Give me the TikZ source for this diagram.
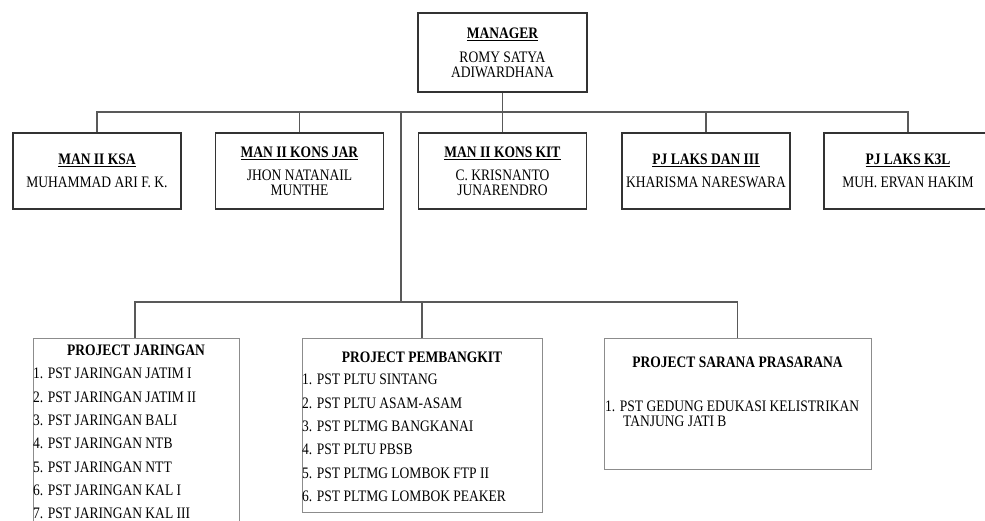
\documentclass[tikz,border=0pt]{standalone}
\usepackage{fontspec}
\setmainfont{Liberation Serif}[FakeStretch=0.845]

\begin{document}
\begin{tikzpicture}[x=1pt, y=-1pt,
    kotak/.style={draw=black!80, line width=1.2pt, minimum width=168pt, minimum height=76pt,
                  inner sep=2pt, align=center, font={\fontsize{16}{15}\selectfont}},
    proyek/.style={draw=black!45, line width=0.9pt},
    judul/.style={anchor=base, inner sep=0pt, font={\fontsize{16}{15}\selectfont\bfseries}},
    daftar/.style={anchor=north west, inner sep=0pt, align=left, font={\fontsize{16}{23.3}\selectfont}},
    garis/.style={draw=black!65, line width=1.1pt}]
    \clip (0,0) rectangle (985,520);

    % Manager et chefs de section
    \node[kotak, minimum width=169pt, minimum height=79pt] (manager) at (502.5,52.5)
        {\underline{\textbf{MANAGER}}\\[9pt]ROMY SATYA\\ADIWARDHANA};
    \node[kotak] (ksa) at (97,171) {\underline{\textbf{MAN II KSA}}\\[8pt]MUHAMMAD ARI F. K.};
    \node[kotak] (konsjar) at (299.5,171) {\underline{\textbf{MAN II KONS JAR}}\\[8pt]JHON NATANAIL\\MUNTHE};
    \node[kotak] (konskit) at (502.5,171) {\underline{\textbf{MAN II KONS KIT}}\\[8pt]C. KRISNANTO\\JUNARENDRO};
    \node[kotak] (pjlaks) at (706,171) {\underline{\textbf{PJ LAKS DAN III}}\\[8pt]KHARISMA NARESWARA};
    \node[kotak] (pjk3l) at (908,171) {\underline{\textbf{PJ LAKS K3L}}\\[8pt]MUH. ERVAN HAKIM};

    % Kotak proyek
    \node[proyek, minimum width=206pt, minimum height=204pt] (jaringan) at (136,440) {};
    \node[proyek, minimum width=240pt, minimum height=174pt] (pembangkit) at (422,425) {};
    \node[proyek, minimum width=267pt, minimum height=131pt] (sarana) at (737.5,403.5) {};

    \node[judul] (tjaringan) at (136,355) {PROJECT JARINGAN};
    \node[daftar] (ljaringan) at (33,368) {1. PST JARINGAN JATIM I\\2. PST JARINGAN JATIM II\\3. PST JARINGAN BALI\\
        4. PST JARINGAN NTB\\5. PST JARINGAN NTT\\6. PST JARINGAN KAL I\\7. PST JARINGAN KAL III};
    \node[judul] (tpembangkit) at (422,362) {PROJECT PEMBANGKIT};
    \node[daftar] (lpembangkit) at (302,374) {1. PST PLTU SINTANG\\2. PST PLTU ASAM-ASAM\\3. PST PLTMG BANGKANAI\\
        4. PST PLTU PBSB\\5. PST PLTMG LOMBOK FTP II\\6. PST PLTMG LOMBOK PEAKER};
    \node[judul] (tsarana) at (737.5,367) {PROJECT SARANA PRASARANA};
    \node[daftar, font={\fontsize{16}{15}\selectfont}] (lsarana) at (605,401)
        {1. PST GEDUNG EDUKASI KELISTRIKAN\\\hspace*{18pt}TANJUNG JATI B};

    % Garis penghubung
    \coordinate (bus) at (0,112);
    \coordinate (tengah) at (401,112);
    \coordinate (bus2) at (0,302);
    \draw[garis] (manager.south) -- (konskit.north);
    \draw[garis] (ksa.north) -- (ksa.north |- bus) -| (pjk3l.north);
    \draw[garis] (konsjar.north) -- (konsjar.north |- bus);
    \draw[garis] (pjlaks.north) -- (pjlaks.north |- bus);
    \draw[garis] (tengah) -- (tengah |- bus2);
    \draw[garis] (jaringan.north -| 135,0) -- (135,302) -| (sarana.north);
    \draw[garis] (pembangkit.north) -- (pembangkit.north |- bus2);
\end{tikzpicture}
\end{document}
